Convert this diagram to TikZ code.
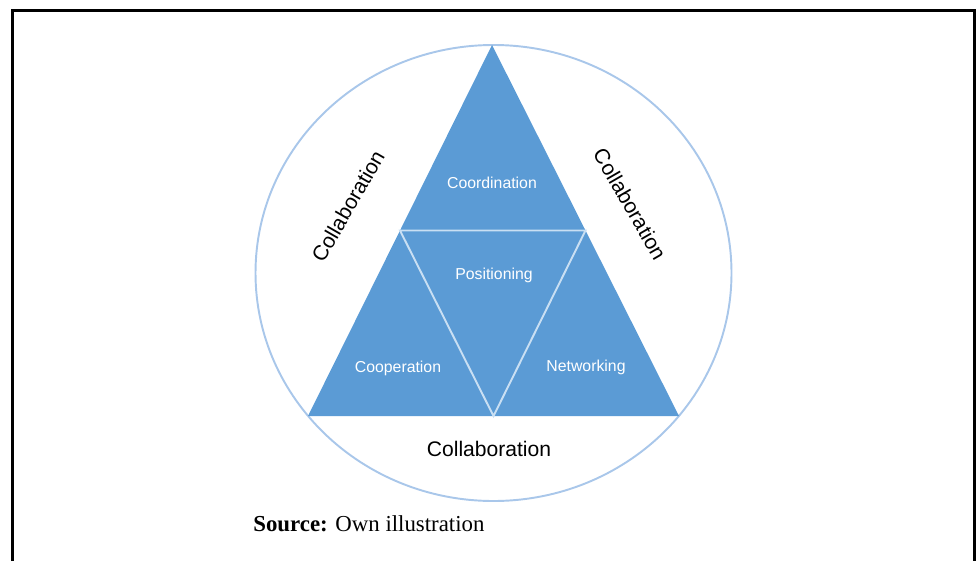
\documentclass[tikz,border=0pt]{standalone}
\usepackage{fontspec}
\setmainfont{Liberation Serif}
\setsansfont{Liberation Sans}
\usetikzlibrary{calc}
\definecolor{triblue}{HTML}{5B9BD5}
\definecolor{ringblue}{HTML}{A9C7EA}
\definecolor{splitblue}{HTML}{C9DFF3}

\begin{document}
\begin{tikzpicture}[x=0.02cm,y=-0.02cm,
    inner/.style={text=white, font=\sffamily\fontsize{9}{11}\selectfont},
    collab/.style={text=black, font=\sffamily\fontsize{12}{14}\selectfont}]
  \useasboundingbox (0,0) rectangle (976,561);
  % frame
  \draw[line width=1.7pt] (12.5,561) -- (12.5,10.5) -- (974.2,10.5) -- (974.2,561);
  % ring
  \coordinate (c) at (493.5,273);
  \draw[ringblue, line width=1.1pt] (c) ellipse [x radius=238, y radius=228];
  % corners of the triangle
  \coordinate (top) at (492,45);
  \coordinate (bl) at (308,416);
  \coordinate (br) at (679,416);
  \coordinate (ml) at ($(top)!0.5!(bl)$);
  \coordinate (mr) at ($(top)!0.5!(br)$);
  \coordinate (mb) at ($(bl)!0.5!(br)$);
  \fill[triblue] (top) -- (bl) -- (br) -- cycle;
  % inner split
  \draw[splitblue, line width=1.1pt] (ml) -- (mr) -- (mb) -- cycle;
  % labels
  \node[inner] (coord) at (492,183) {Coordination};
  \node[inner] (posit) at (494,275) {Positioning};
  \node[inner] (coop) at (398,368) {Cooperation};
  \node[inner] (netw) at (586,367) {Networking};
  \node[collab, rotate=60] (colleft) at (348,206) {Collaboration};
  \node[collab, rotate=-60] (colright) at (630,204) {Collaboration};
  \node[collab] (colbottom) at (489,449) {Collaboration};
  \node[anchor=base west, font=\fontsize{13}{15}\selectfont, inner sep=0pt] (source) at (253,531)
    {\textbf{Source:} Own illustration};
\end{tikzpicture}
\end{document}
